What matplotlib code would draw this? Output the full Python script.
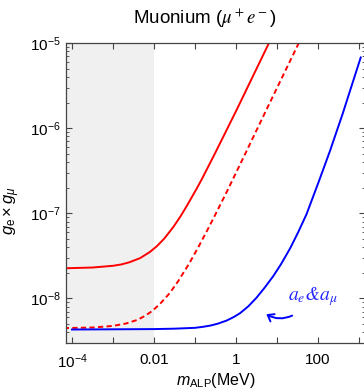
import numpy as np
import matplotlib.pyplot as plt
from matplotlib.ticker import LogLocator, NullLocator, NullFormatter

plt.rcParams['font.family'] = ['Liberation Sans', 'DejaVu Sans']
plt.rcParams['mathtext.fontset'] = 'custom'
plt.rcParams['mathtext.rm'] = 'Liberation Sans'
plt.rcParams['mathtext.it'] = 'Liberation Sans:italic'
plt.rcParams['mathtext.bf'] = 'Liberation Sans:bold'

# values (m in MeV, coupling product g_e*g_mu)
m_red = [6.3e-5, 3.2e-4, 1e-3, 1.6e-3, 2.5e-3, 4.6e-3, 7.9e-3, 0.0117, 0.0178,
         0.0295, 0.0447, 0.063, 0.11, 0.145, 0.316, 1.05, 6.3, 10]
g_red = [2.26e-8, 2.31e-8, 2.42e-8, 2.51e-8, 2.66e-8, 2.98e-8, 3.51e-8, 4.10e-8,
         5.05e-8, 6.89e-8, 9.27e-8, 1.22e-7, 1.95e-7, 2.49e-7, 5.19e-7, 1.66e-6,
         9.9e-6, 1.58e-5]

m_red_dash = [6.3e-5, 3.2e-4, 1e-3, 2.1e-3, 4.0e-3, 5.5e-3, 7.9e-3, 9.5e-3, 0.014,
              0.024, 0.039, 0.071, 0.12, 0.2, 0.31, 0.62, 1.78, 5.6, 34, 50]
g_red_dash = [4.49e-9, 4.56e-9, 4.76e-9, 5.09e-9, 5.62e-9, 6.10e-9, 6.81e-9, 7.29e-9,
              8.63e-9, 1.15e-8, 1.60e-8, 2.54e-8, 3.99e-8, 6.34e-8, 9.57e-8, 1.86e-7,
              5.30e-7, 1.67e-6, 1.0e-5, 1.48e-5]

m_blue = [1e-4, 0.01, 0.0316, 0.1, 0.158, 0.234, 0.355, 0.59, 0.89, 1.26, 2.0, 3.16,
          5.0, 8.1, 12.6, 20.9, 33, 52.5, 102, 195, 400, 1100]
g_blue = [4.32e-9, 4.37e-9, 4.42e-9, 4.52e-9, 4.65e-9, 4.80e-9, 5.05e-9, 5.50e-9,
          6.07e-9, 6.73e-9, 8.09e-9, 1.02e-8, 1.34e-8, 1.83e-8, 2.54e-8, 3.88e-8,
          6.03e-8, 9.77e-8, 2.29e-7, 5.37e-7, 1.48e-6, 6.76e-6]

excluded_upto = 0.01
xticks = [1e-4, 1e-3, 1e-2, 1e-1, 1, 10, 100, 1000]
xticklabels = ['$10^{-4}$', '', '0.01', '', '1', '', '100', '']

xmin, xmax = 10**-4.146, 10**3.146
ymin, ymax = 3e-9, 1e-5

fig = plt.figure(figsize=(3.64, 3.92), dpi=100)
ax = fig.add_axes([66/364, 1 - 343/392, 299/364, 300/392])

ax.axvspan(xmin, excluded_upto, color='#f0f0f0', lw=0, zorder=0)
ax.plot(m_red, g_red, color='#ff0000', lw=1.4)
ax.plot(m_red_dash, g_red_dash, color='#ff0000', lw=1.4, ls=(0, (2.7, 1.7)))
ax.plot(m_blue, g_blue, color='#0000ff', lw=1.4)

ax.set_xscale('log')
ax.set_yscale('log')
ax.set_xlim(xmin, xmax)
ax.set_ylim(ymin, ymax)

ax.set_xticks(xticks)
ax.set_xticklabels(xticklabels)
ax.xaxis.set_minor_locator(NullLocator())
ax.yaxis.set_major_locator(LogLocator(base=10, numticks=10))
ax.yaxis.set_minor_locator(LogLocator(base=10, subs=np.arange(2, 10), numticks=10))
ax.yaxis.set_minor_formatter(NullFormatter())

ax.tick_params(which='both', direction='in', top=True, right=True,
               color='#444444', labelsize=11)
ax.tick_params(which='major', length=4, width=0.8)
ax.tick_params(axis='x', pad=7)
ax.tick_params(which='minor', length=2, width=0.6)
for s in ax.spines.values():
    s.set_color('#444444')
    s.set_linewidth(0.9)

ax.set_xlabel(r'$m_{\mathrm{ALP}}$(MeV)', fontsize=11.5, labelpad=0)
ax.set_ylabel(r'$g_{\mathrm{e}}\times g_{\mu}$', fontsize=12)
ax.yaxis.set_label_coords(-0.147, 0.44)
ax.set_title(r'Muonium ($\mu^+e^-$)', fontsize=13.5, pad=14, x=0.465,
             math_fontfamily='stix')

ax.text(76, 1.05e-8, r'$a_e$&$a_\mu$', color='#2626ff', fontsize=14,
        family='STIXGeneral', style='italic',
        ha='center', va='center', math_fontfamily='stix')
ax.annotate('', xy=(4.8, 6.8e-9), xytext=(27, 6.5e-9),
            arrowprops=dict(arrowstyle='->,head_length=0.4,head_width=0.3',
                            color='#0000ff', lw=1.4,
                            connectionstyle='arc3,rad=-0.3'))

fig.savefig('out.png', dpi=100)
